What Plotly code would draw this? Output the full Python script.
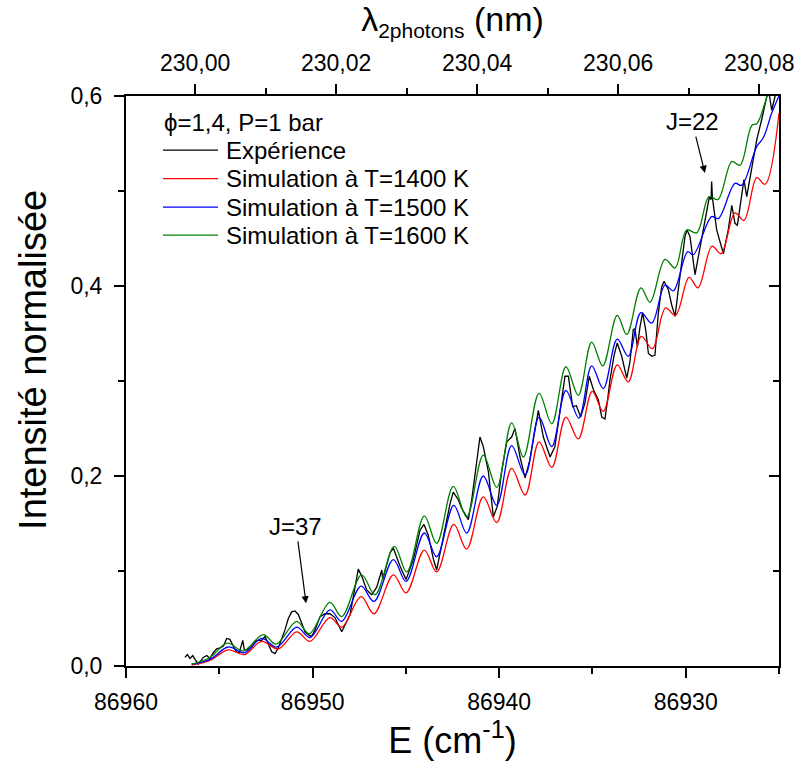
import plotly.graph_objects as go

# ---------------- data ----------------
E_exp = [86956.84, 86956.71, 86956.57, 86956.42, 86956.30, 86956.12, 86955.86, 86955.67, 86955.50, 86955.32,
         86955.14, 86954.96, 86954.78, 86954.60, 86954.43, 86954.28, 86954.10, 86953.93, 86953.74, 86953.66,
         86953.50, 86953.26, 86953.09, 86952.91, 86952.73, 86952.55, 86952.37, 86952.19, 86952.01, 86951.84,
         86951.65, 86951.48, 86951.30, 86951.12, 86950.94, 86950.76, 86950.58, 86950.41, 86950.23, 86950.05,
         86949.87, 86949.60, 86949.33, 86949.07, 86948.80, 86948.44, 86947.99, 86947.55, 86947.35, 86947.10,
         86946.83, 86946.56, 86946.29, 86946.24, 86945.85, 86945.67, 86945.31, 86944.99, 86944.60, 86944.24,
         86944.03, 86943.80, 86943.53, 86943.35, 86942.99, 86942.63, 86942.46, 86942.19, 86942.01, 86941.65,
         86941.47, 86941.03, 86940.85, 86940.58, 86940.31, 86940.10, 86939.86, 86939.59, 86939.33, 86939.15,
         86938.88, 86938.61, 86938.35, 86937.90, 86937.63, 86937.27, 86937.01, 86936.65, 86936.47, 86936.29,
         86936.06, 86935.86, 86935.63, 86935.40, 86935.17, 86934.95, 86934.68, 86934.50, 86934.33, 86934.20,
         86934.06, 86933.84, 86933.67, 86933.43, 86933.16, 86932.99, 86932.81, 86932.72, 86932.59, 86932.45,
         86932.31, 86932.13, 86932.00, 86931.82, 86931.65, 86931.47, 86931.29, 86931.16, 86930.93, 86930.75,
         86930.57, 86930.40, 86930.21, 86930.04, 86929.93, 86929.77, 86929.50, 86929.23, 86928.97, 86928.73,
         86928.64, 86928.61, 86928.57, 86928.34, 86927.98, 86927.72, 86927.53, 86927.36, 86927.23, 86927.00,
         86926.88, 86926.73, 86926.55, 86926.19, 86925.93, 86925.66, 86925.54, 86925.39, 86925.21, 86925.00]
I_exp = [0.009, 0.012, 0.008, 0.011, 0.007, 0.002, 0.009, 0.011, 0.008, 0.014,
         0.018, 0.019, 0.021, 0.029, 0.028, 0.022, 0.015, 0.014, 0.027, 0.017,
         0.017, 0.020, 0.026, 0.027, 0.027, 0.031, 0.023, 0.015, 0.013, 0.019,
         0.029, 0.038, 0.050, 0.057, 0.058, 0.054, 0.045, 0.036, 0.033, 0.031,
         0.038, 0.052, 0.055, 0.055, 0.051, 0.036, 0.054, 0.102, 0.094, 0.080,
         0.075, 0.083, 0.101, 0.091, 0.119, 0.124, 0.105, 0.091, 0.112, 0.143,
         0.149, 0.138, 0.113, 0.101, 0.136, 0.171, 0.183, 0.175, 0.166, 0.154,
         0.175, 0.241, 0.231, 0.205, 0.157, 0.168, 0.206, 0.236, 0.241, 0.250,
         0.220, 0.198, 0.217, 0.269, 0.241, 0.220, 0.231, 0.277, 0.305, 0.305,
         0.273, 0.274, 0.262, 0.277, 0.305, 0.291, 0.280, 0.262, 0.260, 0.278,
         0.301, 0.327, 0.340, 0.326, 0.303, 0.320, 0.354, 0.355, 0.336, 0.357,
         0.372, 0.352, 0.329, 0.326, 0.327, 0.371, 0.399, 0.405, 0.396, 0.380,
         0.368, 0.396, 0.424, 0.452, 0.459, 0.452, 0.412, 0.441, 0.469, 0.494,
         0.491, 0.510, 0.493, 0.459, 0.434, 0.459, 0.485, 0.466, 0.464, 0.494,
         0.512, 0.494, 0.515, 0.554, 0.575, 0.599, 0.604, 0.585, 0.600, 0.617]

E_1400 = [86956.48, 86955.50, 86954.52, 86953.66, 86952.73, 86951.84, 86950.85, 86950.14, 86949.07, 86948.44,
          86947.40, 86946.71, 86945.67, 86944.99, 86944.01, 86943.35, 86942.43, 86941.74, 86940.85, 86940.13,
          86939.33, 86938.61, 86937.86, 86937.18, 86936.42, 86935.76, 86935.01, 86934.42, 86933.67, 86933.08,
          86932.38, 86931.79, 86931.08, 86930.55, 86929.82, 86929.34, 86928.59, 86928.11, 86927.36, 86926.88,
          86926.19, 86925.75, 86925.00]
I_1400 = [0.001, 0.006, 0.017, 0.012, 0.026, 0.018, 0.036, 0.026, 0.051, 0.041,
          0.073, 0.055, 0.096, 0.077, 0.122, 0.099, 0.149, 0.123, 0.178, 0.151,
          0.208, 0.180, 0.236, 0.209, 0.262, 0.239, 0.289, 0.268, 0.317, 0.299,
          0.347, 0.334, 0.377, 0.369, 0.409, 0.398, 0.442, 0.434, 0.477, 0.469,
          0.514, 0.507, 0.582]

E_1500 = [86956.48, 86955.50, 86954.52, 86953.66, 86952.73, 86951.92, 86950.85, 86950.14, 86949.07, 86948.44,
          86947.40, 86946.71, 86945.67, 86944.99, 86944.01, 86943.35, 86942.43, 86941.74, 86940.85, 86940.13,
          86939.33, 86938.61, 86937.86, 86937.18, 86936.42, 86935.73, 86935.04, 86934.42, 86933.67, 86933.08,
          86932.40, 86931.82, 86931.11, 86930.66, 86929.90, 86929.59, 86928.61, 86928.25, 86927.36, 86927.00,
          86926.19, 86925.84, 86925.39, 86925.00]
I_1500 = [0.002, 0.007, 0.020, 0.014, 0.029, 0.020, 0.041, 0.030, 0.059, 0.047,
          0.084, 0.068, 0.112, 0.089, 0.140, 0.115, 0.169, 0.140, 0.200, 0.169,
          0.232, 0.201, 0.262, 0.231, 0.290, 0.261, 0.316, 0.292, 0.344, 0.326,
          0.372, 0.361, 0.401, 0.395, 0.436, 0.433, 0.473, 0.471, 0.508, 0.506,
          0.547, 0.556, 0.582, 0.600]

E_1600 = [86956.48, 86955.50, 86954.57, 86953.71, 86952.64, 86951.96, 86950.85, 86950.18, 86949.07, 86948.44,
          86947.37, 86946.65, 86945.62, 86944.95, 86944.01, 86943.35, 86942.46, 86941.74, 86940.85, 86940.13,
          86939.33, 86938.70, 86937.86, 86937.18, 86936.42, 86935.76, 86935.04, 86934.45, 86933.67, 86933.16,
          86932.40, 86931.91, 86931.11, 86930.57, 86929.95, 86929.41, 86928.75, 86928.27, 86927.53, 86927.09,
          86926.46, 86926.18, 86925.64, 86925.37]
I_1600 = [0.002, 0.009, 0.024, 0.016, 0.033, 0.023, 0.047, 0.034, 0.067, 0.052,
          0.096, 0.075, 0.126, 0.099, 0.158, 0.129, 0.189, 0.157, 0.222, 0.188,
          0.256, 0.220, 0.287, 0.255, 0.315, 0.285, 0.341, 0.316, 0.369, 0.349,
          0.398, 0.383, 0.428, 0.419, 0.459, 0.456, 0.494, 0.491, 0.531, 0.527,
          0.569, 0.571, 0.600, 0.617]

legend_title = "\u03d5=1,4, P=1 bar"
series_names = ["Expérience", "Simulation à T=1400 K", "Simulation à T=1500 K", "Simulation à T=1600 K"]
series_colors = ["#000000", "#FF0000", "#0000FF", "#008000"]
y_title = "Intensité normalisée"

# annotation labels: (text, E of text, I of text, E of arrow tip, I of arrow tip)
labels = [("J=37", 86950.89, 0.147, 86950.35, 0.066),
          ("J=22", 86929.66, 0.573, 86928.97, 0.519)]

FONT = "Liberation Sans, Arial, sans-serif"

fig = go.Figure()
xs = [E_exp, E_1400, E_1500, E_1600]
ys = [I_exp, I_1400, I_1500, I_1600]
for i, (xv, yv) in enumerate(zip(xs, ys)):
    line = dict(color=series_colors[i], width=1.3)
    if i == 0:
        line["shape"] = "linear"
    else:
        line["shape"] = "spline"
        line["smoothing"] = 1.0
    fig.add_trace(go.Scatter(x=xv, y=yv, mode="lines", name=series_names[i],
                             line=line, showlegend=False))
# empty traces to activate the top and right axes
fig.add_trace(go.Scatter(x=[], y=[], xaxis="x2", yaxis="y", showlegend=False, hoverinfo="skip"))
fig.add_trace(go.Scatter(x=[], y=[], xaxis="x", yaxis="y2", showlegend=False, hoverinfo="skip"))


def axis_common(tick_dir="outside"):
    return dict(showline=True, linewidth=2, linecolor="black", ticks=tick_dir,
                ticklen=10, tickwidth=2, tickcolor="black", showgrid=False, zeroline=False,
                automargin=False,
                tickfont=dict(family=FONT, size=23, color="black"))


fig.update_layout(
    width=800, height=762,
    margin=dict(l=126, r=21, t=96, b=96),
    paper_bgcolor="white", plot_bgcolor="white",
    separators=", ",
    font=dict(family=FONT, color="black"),
    xaxis=dict(range=[86960, 86925], dtick=10, tick0=86960, tickformat="d",
               minor=dict(dtick=5, ticklen=6, tickwidth=2, tickcolor="black", ticks="outside"),
               title=dict(text="E (cm<sup>-1</sup>)", font=dict(family=FONT, size=36), standoff=14),
               ticklabelstandoff=4,
               **axis_common()),
    xaxis2=dict(overlaying="x", side="top", anchor="y", range=[229.9902, 230.0828],
                dtick=0.02, tick0=230.0, tickformat=".2f",
                minor=dict(dtick=0.01, ticklen=6, tickwidth=2, tickcolor="black", ticks="outside"),
                title=dict(text="\u03bb<sub><span style='font-size:21px'>2photons</span></sub> (nm)",
                           font=dict(family=FONT, size=34), standoff=10),
                ticklabelstandoff=4,
                **axis_common()),
    yaxis=dict(range=[0, 0.6], dtick=0.2, tick0=0, tickformat=".1f",
               minor=dict(dtick=0.1, ticklen=6, tickwidth=2, tickcolor="black", ticks="outside"),
               ticklabelstandoff=7,
               **axis_common()),
    yaxis2=dict(overlaying="y", side="right", anchor="x", range=[0, 0.6], dtick=0.2, tick0=0,
                showticklabels=False,
                minor=dict(dtick=0.1, ticklen=6, tickwidth=2, tickcolor="black", ticks="inside"),
                **axis_common("inside")),
)

# y axis title placed as rotated text (sits slightly above the axis middle in the original)
fig.add_annotation(x=-0.1424, y=0.537, xref="paper", yref="paper", text=y_title,
                   textangle=-90, showarrow=False, xanchor="center", yanchor="middle",
                   font=dict(family=FONT, size=38, color="black"))

# manual legend (text + line samples in paper coordinates)
leg_x0, leg_x1, leg_tx = 0.0567, 0.1409, 0.1520
row_y = [0.905, 0.855, 0.805, 0.756]
fig.add_annotation(x=leg_x0, y=0.954, xref="paper", yref="paper", text=legend_title,
                   showarrow=False, xanchor="left", yanchor="middle", borderpad=0,
                   font=dict(family=FONT, size=24, color="black"))
for i, name in enumerate(series_names):
    fig.add_shape(type="line", xref="paper", yref="paper", x0=leg_x0, x1=leg_x1,
                  y0=row_y[i], y1=row_y[i], line=dict(color=series_colors[i], width=1.3))
    fig.add_annotation(x=leg_tx, y=row_y[i], xref="paper", yref="paper", text=name,
                       showarrow=False, xanchor="left", yanchor="middle", borderpad=0,
                       font=dict(family=FONT, size=24, color="black"))

for txt, ex, ey, tx, ty in labels:
    fig.add_annotation(x=tx, y=ty, ax=ex, ay=ey, xref="x", yref="y", axref="x", ayref="y",
                       text=txt, showarrow=True, arrowhead=2, arrowsize=1.2, arrowwidth=1.2,
                       arrowcolor="black", font=dict(family=FONT, size=24, color="black"))

fig.write_html("out.html",
               config={"displayModeBar": False},
               post_script="document.body.style.margin='0';document.body.style.padding='0';")
